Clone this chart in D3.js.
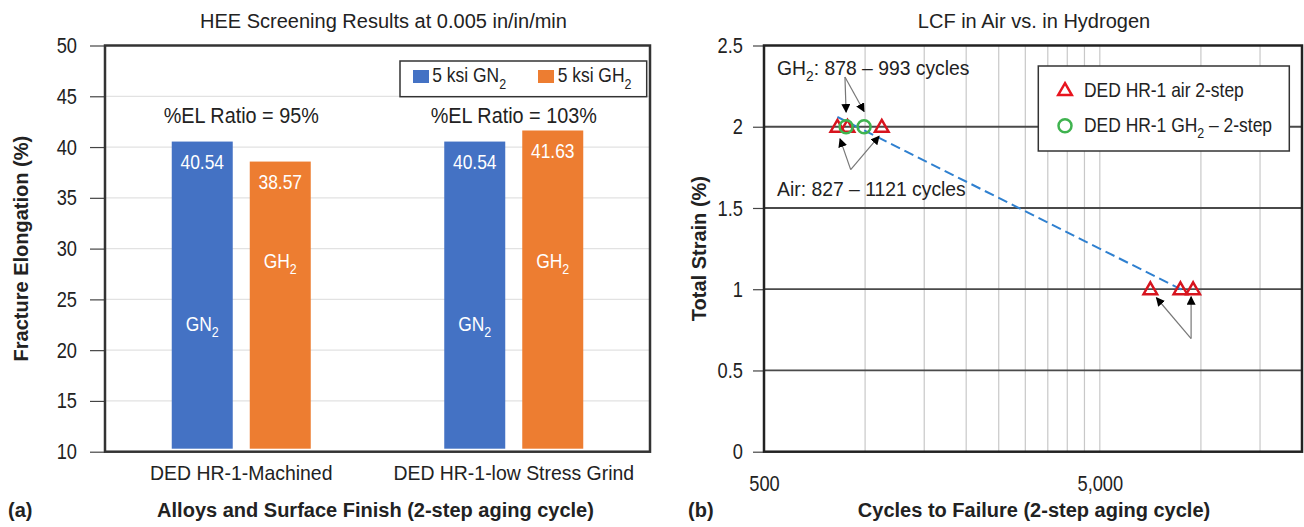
<!DOCTYPE html>
<html>
<head>
<meta charset="utf-8">
<script src="https://cdn.jsdelivr.net/npm/d3@7"></script>
<style>
  body { margin: 0; background: #fff; }
  svg text { font-family: "Liberation Sans", Arial, sans-serif; fill: #222; }
</style>
</head>
<body>
<svg id="fig" width="1304" height="527"></svg>
<script>
// ---- data, left panel (a)
var categories = ["DED HR-1-Machined", "DED HR-1-low Stress Grind"];
var seriesKeys = ["GN2", "GH2"];
var gn2Values = [40.54, 40.54];
var gh2Values = [38.57, 41.63];
var ratioLabels = ["%EL Ratio = 95%", "%EL Ratio = 103%"];
var leftYTicks = [10, 15, 20, 25, 30, 35, 40, 45, 50];

// ---- data, right panel (b)
var airCycles = [827, 886, 1121, 7070, 8690, 9480];
var airStrain = [2, 2, 2, 1, 1, 1];
var gh2Cycles = [878, 993];
var gh2Strain = [2, 2];
var trendCycles = [827, 9100];
var trendStrain = [2.06, 0.98];
var rightYTicks = [0, 0.5, 1, 1.5, 2, 2.5];
var rightXTicks = [500, 5000];
var rightXGrid = [1000, 1500, 2000, 2500, 3000, 3500, 4000, 4500, 5000, 10000, 15000];

var colors = {GN2: "#4472C4", GH2: "#ED7D31"};
var FONT = "'Liberation Sans', Arial, sans-serif";

var svg = d3.select("#fig");

// text with a subscript part: pieces = [[text, isSub], ...]
function richText(sel, pieces, size) {
  var prevSub = false;
  pieces.forEach(function(p) {
    var t = sel.append("tspan").text(p[0]);
    if (p[1]) t.attr("font-size", Math.round(size * 0.7)).attr("dy", size * 0.3);
    else if (prevSub) t.attr("dy", -size * 0.3);
    prevSub = p[1];
  });
  return sel;
}

// squeeze text horizontally (the original uses a narrow face)
function narrow(sel, k) {
  sel.each(function() {
    var w = this.getComputedTextLength();
    d3.select(this).attr("textLength", w * k).attr("lengthAdjust", "spacingAndGlyphs");
  });
  return sel;
}

// arrowhead
svg.append("defs").append("marker")
  .attr("id", "arrow")
  .attr("viewBox", "0 0 10 10")
  .attr("refX", 9).attr("refY", 5)
  .attr("markerWidth", 9).attr("markerHeight", 9)
  .attr("markerUnits", "userSpaceOnUse")
  .attr("orient", "auto")
  .append("path").attr("d", "M0,0 L10,5 L0,10 Z").attr("fill", "#000");

// =================== (a) bar chart
var L = {left: 105, right: 650, top: 45.5, bottom: 451.7};

var yL = d3.scaleLinear().domain([10, 50]).range([L.bottom, L.top]);
var x0 = d3.scaleBand().domain(categories).range([L.left, L.right]);
var x1 = d3.scaleBand().domain(seriesKeys).range([-69.5, 69.5]).paddingInner(0.218);

var rows = categories.map(function(c, i) {
  return {cat: c, GN2: gn2Values[i], GH2: gh2Values[i], ratio: ratioLabels[i]};
});

// gridlines
svg.append("g").selectAll("line")
  .data(leftYTicks.filter(function(t) { return t > 10 && t < 50; }))
  .enter().append("line")
    .attr("x1", L.left).attr("x2", L.right)
    .attr("y1", function(d) { return yL(d); })
    .attr("y2", function(d) { return yL(d); })
    .attr("stroke", "#e2e2e2").attr("stroke-width", 1.2);

// y axis
var yAxisL = svg.append("g")
  .attr("transform", "translate(" + L.left + ",0)")
  .call(d3.axisLeft(yL).tickValues(leftYTicks).tickSize(15).tickPadding(13));
yAxisL.select(".domain").remove();
yAxisL.selectAll("line").attr("stroke", "#444").attr("stroke-width", 1.2);
narrow(yAxisL.selectAll("text").attr("font-size", 22).attr("fill", "#222").style("font-family", FONT), 0.83);

// bars
var groups = svg.append("g").selectAll("g")
  .data(rows).enter().append("g")
    .attr("transform", function(d) { return "translate(" + (x0(d.cat) + x0.bandwidth() / 2) + ",0)"; });

groups.selectAll("rect")
  .data(function(d) { return seriesKeys.map(function(k) { return {key: k, value: d[k]}; }); })
  .enter().append("rect")
    .attr("x", function(d) { return x1(d.key); })
    .attr("width", x1.bandwidth())
    .attr("y", function(d) { return yL(d.value); })
    .attr("height", function(d) { return yL(10) - 3 - yL(d.value); })
    .attr("fill", function(d) { return colors[d.key]; });

// value labels
narrow(groups.selectAll("text.val")
  .data(function(d) { return seriesKeys.map(function(k) { return {key: k, value: d[k]}; }); })
  .enter().append("text")
    .attr("class", "val")
    .attr("x", function(d) { return x1(d.key) + x1.bandwidth() / 2; })
    .attr("y", function(d) { return yL(d.value) + 27.5; })
    .attr("text-anchor", "middle")
    .attr("font-size", 21)
    .style("fill", "#fff")
    .text(function(d) { return d.value.toFixed(2); }), 0.83);

// series name inside bars
groups.each(function() {
  var g = d3.select(this);
  narrow(richText(g.append("text")
    .attr("x", x1("GN2") + x1.bandwidth() / 2).attr("y", yL(21.9))
    .attr("text-anchor", "middle").attr("font-size", 21).style("fill", "#fff"),
    [["GN", false], ["2", true]], 21), 0.83);
  narrow(richText(g.append("text")
    .attr("x", x1("GH2") + x1.bandwidth() / 2).attr("y", yL(28.1))
    .attr("text-anchor", "middle").attr("font-size", 21).style("fill", "#fff"),
    [["GH", false], ["2", true]], 21), 0.83);
});

// ratio labels
narrow(groups.append("text")
  .attr("x", 0).attr("y", 122.7)
  .attr("text-anchor", "middle").attr("font-size", 22)
  .text(function(d) { return d.ratio; }), 0.9);

// frame
svg.append("rect")
  .attr("x", L.left).attr("y", L.top)
  .attr("width", L.right - L.left).attr("height", L.bottom - L.top)
  .attr("fill", "none").attr("stroke", "#333").attr("stroke-width", 2.5);

// category labels
narrow(svg.append("g").selectAll("text")
  .data(categories).enter().append("text")
    .attr("x", function(d) { return x0(d) + x0.bandwidth() / 2; })
    .attr("y", 480)
    .attr("text-anchor", "middle").attr("font-size", 21)
    .text(function(d) { return d; }), 0.925);

// legend (a)
var legA = svg.append("g");
legA.append("rect").attr("x", 400).attr("y", 61).attr("width", 246.7).attr("height", 35.7)
  .attr("fill", "#fff").attr("stroke", "#333").attr("stroke-width", 1.5);
[["GN", 413, 432.3], ["GH", 538, 557.7]].forEach(function(e, i) {
  legA.append("rect").attr("x", e[1]).attr("y", 70).attr("width", 16).attr("height", 13)
    .attr("fill", colors[seriesKeys[i]]);
  narrow(richText(legA.append("text").attr("x", e[2]).attr("y", 82.3).attr("font-size", 21),
    [["5 ksi " + e[0], false], ["2", true]], 21), 0.83);
});

// titles (a)
svg.append("text").attr("x", (L.left + L.right) / 2 + 6).attr("y", 28)
  .attr("text-anchor", "middle").attr("font-size", 20)
  .text("HEE Screening Results at 0.005 in/in/min");
svg.append("text").attr("x", (L.left + L.right) / 2 - 2).attr("y", 517)
  .attr("text-anchor", "middle").attr("font-size", 20).attr("font-weight", "bold")
  .text("Alloys and Surface Finish (2-step aging cycle)");
svg.append("text").attr("x", 8).attr("y", 517)
  .attr("font-size", 20).attr("font-weight", "bold").text("(a)");
svg.append("text")
  .attr("transform", "translate(28," + ((L.top + L.bottom) / 2) + ") rotate(-90)")
  .attr("text-anchor", "middle").attr("font-size", 20).attr("font-weight", "bold")
  .text("Fracture Elongation (%)");

// =================== (b) strain-life
var R = {left: 764, right: 1302, top: 45.5, bottom: 451.7};

var xR = d3.scaleLog().domain([500, 20000]).range([R.left, R.right]);
var yR = d3.scaleLinear().domain([0, 2.5]).range([R.bottom, R.top]);

// vertical gridlines
svg.append("g").selectAll("line")
  .data(rightXGrid).enter().append("line")
    .attr("x1", function(d) { return xR(d); }).attr("x2", function(d) { return xR(d); })
    .attr("y1", R.top).attr("y2", R.bottom)
    .attr("stroke", "#c8c8c8").attr("stroke-width", 1.2);

// horizontal gridlines
svg.append("g").selectAll("line")
  .data(rightYTicks.filter(function(t) { return t > 0 && t < 2.5; }))
  .enter().append("line")
    .attr("x1", R.left).attr("x2", R.right)
    .attr("y1", function(d) { return yR(d); }).attr("y2", function(d) { return yR(d); })
    .attr("stroke", "#4a4a4a").attr("stroke-width", 1.8);

// y axis
var yAxisR = svg.append("g")
  .attr("transform", "translate(" + R.left + ",0)")
  .call(d3.axisLeft(yR).tickValues(rightYTicks).tickSize(11).tickPadding(10)
    .tickFormat(function(d) { return String(d); }));
yAxisR.select(".domain").remove();
yAxisR.selectAll("line").attr("stroke", "#444").attr("stroke-width", 1.2);
narrow(yAxisR.selectAll("text").attr("font-size", 22).attr("fill", "#222").style("font-family", FONT), 0.83);

// x axis
var xAxisR = svg.append("g")
  .attr("transform", "translate(0," + R.bottom + ")")
  .call(d3.axisBottom(xR).tickValues(rightXTicks).tickSize(0).tickPadding(24)
    .tickFormat(d3.format(",")));
xAxisR.select(".domain").remove();
narrow(xAxisR.selectAll("text").attr("font-size", 22).attr("fill", "#222").style("font-family", FONT), 0.83);

// trend line
var trend = trendCycles.map(function(c, i) { return [c, trendStrain[i]]; });
svg.append("path")
  .datum(trend)
  .attr("fill", "none")
  .attr("stroke", "#2f80d0")
  .attr("stroke-width", 2)
  .attr("stroke-dasharray", "10,5")
  .attr("d", d3.line().x(function(d) { return xR(d[0]); }).y(function(d) { return yR(d[1]); }));

// annotation arrows, in data coordinates
var arrowGroups = [
  {from: [871, 2.306], to: [[878, 2.09], [993, 2.094]]},
  {from: [906, 1.736], to: [[842, 1.925], [1101, 1.942]]},
  {from: [9350, 0.696], to: [[7370, 0.9475], [9350, 0.954]]}
];
var arrowLayer = svg.append("g");
arrowGroups.forEach(function(a) {
  a.to.forEach(function(t) {
    arrowLayer.append("line")
      .attr("x1", xR(a.from[0])).attr("y1", yR(a.from[1]))
      .attr("x2", xR(t[0])).attr("y2", yR(t[1]))
      .attr("stroke", "#777").attr("stroke-width", 1.2)
      .attr("marker-end", "url(#arrow)");
  });
});

// markers
var tri = d3.symbol().type(d3.symbolTriangle).size(80);
var air = airCycles.map(function(c, i) { return [c, airStrain[i]]; });
var gh2 = gh2Cycles.map(function(c, i) { return [c, gh2Strain[i]]; });

svg.append("g").selectAll("path")
  .data(air).enter().append("path")
    .attr("d", tri)
    .attr("transform", function(d) { return "translate(" + xR(d[0]) + "," + (yR(d[1]) + 1) + ")"; })
    .attr("fill", "none").attr("stroke", "#d7141e").attr("stroke-width", 2.5);

svg.append("g").selectAll("circle")
  .data(gh2).enter().append("circle")
    .attr("cx", function(d) { return xR(d[0]); })
    .attr("cy", function(d) { return yR(d[1]); })
    .attr("r", 6.5)
    .attr("fill", "none").attr("stroke", "#3fb34f").attr("stroke-width", 2.5);

// annotation texts
narrow(richText(svg.append("text").attr("x", xR(547)).attr("y", yR(2.32)).attr("font-size", 21),
  [["GH", false], ["2", true], [": 878 \u2013 993 cycles", false]], 21), 0.92);
narrow(svg.append("text").attr("x", xR(547)).attr("y", yR(1.575)).attr("font-size", 21)
  .text("Air: 827 \u2013 1121 cycles"), 0.92);

// frame
svg.append("rect")
  .attr("x", R.left).attr("y", R.top)
  .attr("width", R.right - R.left).attr("height", R.bottom - R.top)
  .attr("fill", "none").attr("stroke", "#222").attr("stroke-width", 2.5);

// legend (b)
var legB = svg.append("g");
legB.append("rect").attr("x", 1038.3).attr("y", 66).attr("width", 251).attr("height", 85)
  .attr("fill", "#fff").attr("stroke", "#333").attr("stroke-width", 1.5);
legB.append("path").attr("d", tri).attr("transform", "translate(1065,91)")
  .attr("fill", "none").attr("stroke", "#e8141e").attr("stroke-width", 2.5);
legB.append("circle").attr("cx", 1065).attr("cy", 125.7).attr("r", 6.5)
  .attr("fill", "none").attr("stroke", "#3fb34f").attr("stroke-width", 2.5);
narrow(legB.append("text").attr("x", 1084).attr("y", 97).attr("font-size", 21).text("DED HR-1 air 2-step"), 0.83);
narrow(richText(legB.append("text").attr("x", 1084).attr("y", 132).attr("font-size", 21),
  [["DED HR-1 GH", false], ["2", true], [" \u2013 2-step", false]], 21), 0.83);

// titles (b)
svg.append("text").attr("x", 1034).attr("y", 28)
  .attr("text-anchor", "middle").attr("font-size", 20)
  .text("LCF in Air vs. in Hydrogen");
svg.append("text").attr("x", 1034).attr("y", 517)
  .attr("text-anchor", "middle").attr("font-size", 20).attr("font-weight", "bold")
  .text("Cycles to Failure (2-step aging cycle)");
svg.append("text").attr("x", 688).attr("y", 517)
  .attr("font-size", 20).attr("font-weight", "bold").text("(b)");
svg.append("text")
  .attr("transform", "translate(706," + ((R.top + R.bottom) / 2) + ") rotate(-90)")
  .attr("text-anchor", "middle").attr("font-size", 20).attr("font-weight", "bold")
  .text("Total Strain (%)");
</script>
</body>
</html>
